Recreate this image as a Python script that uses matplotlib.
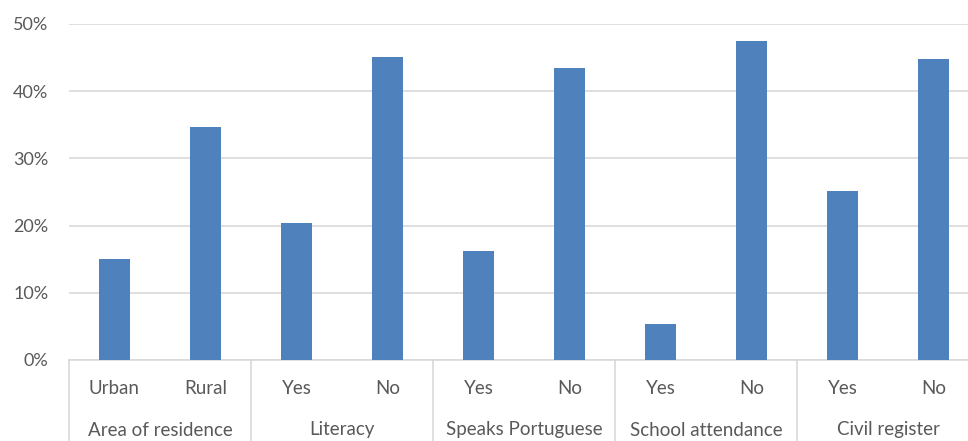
import matplotlib.pyplot as plt
from matplotlib.ticker import FuncFormatter
import numpy as np

plt.rcParams['font.family'] = ['Lato', 'DejaVu Sans']

groups = ['Area of residence', 'Literacy', 'Speaks Portuguese', 'School attendance', 'Civil register']
categories = ['Urban', 'Rural', 'Yes', 'No', 'Yes', 'No', 'Yes', 'No', 'Yes', 'No']
values = [15.1, 34.6, 20.4, 45.1, 16.2, 43.5, 5.4, 47.5, 25.1, 44.8]
yticks = [0, 10, 20, 30, 40, 50]

bar_color = '#4F81BD'
text_color = '#595959'
grid_color = '#D9D9D9'

W, H = 968, 441
fig = plt.figure(figsize=(W / 100, H / 100), dpi=100)
# axes runs a little past the right edge, as in the cropped original
ax = fig.add_axes([69 / W, (H - 360) / H, 910 / W, 336 / H])

x = np.arange(len(categories))
ax.bar(x, values, width=0.35, color=bar_color, zorder=3)

ax.set_xlim(-0.5, len(categories) - 0.5)
ax.set_ylim(0, 50)
ax.set_yticks(yticks)
ax.yaxis.set_major_formatter(FuncFormatter(lambda v, p: f'{v:.0f}%'))
ax.yaxis.grid(True, color=grid_color, linewidth=1.2, zorder=0)
ax.tick_params(axis='y', length=0, pad=15, labelsize=13, labelcolor=text_color)

for s in ['top', 'right', 'left']:
    ax.spines[s].set_visible(False)
ax.spines['bottom'].set_color(grid_color)
ax.spines['bottom'].set_linewidth(1.2)

ax.set_xticks([])
trans = ax.get_xaxis_transform()
for i, c in enumerate(categories):
    ax.text(i, -28 / 336, c, transform=trans, ha='center', va='center',
            fontsize=13.5, color=text_color, clip_on=False)
for g, name in enumerate(groups):
    ax.text(2 * g + 0.5, -70 / 336, name, transform=trans, ha='center', va='center',
            fontsize=13.5, color=text_color, clip_on=False)
for b in np.arange(-0.5, len(categories), 2):
    ax.plot([b, b], [0, -90 / 336], transform=trans, color=grid_color,
            linewidth=1.2, clip_on=False)

fig.savefig('out.png', dpi=100)
